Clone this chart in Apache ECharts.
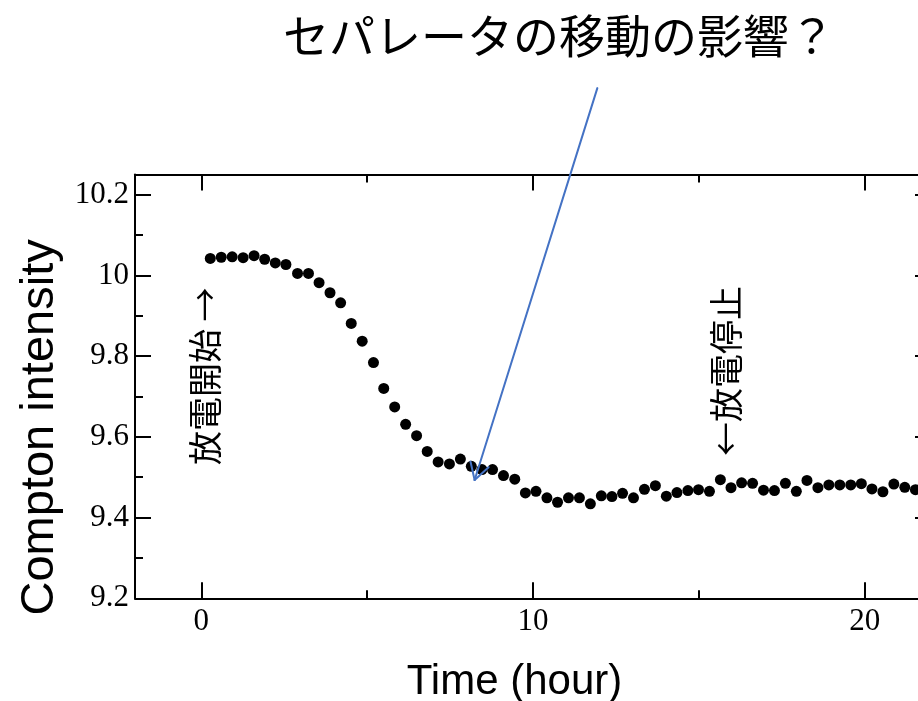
<!DOCTYPE html>
<html>
<head>
<meta charset="utf-8">
<script src="https://cdn.jsdelivr.net/npm/echarts@6/dist/echarts.min.js"></script>
<style>
html,body{margin:0;padding:0;background:#fff;}
#chart{width:918px;height:701px;}
</style>
</head>
<body>
<div id="chart"></div>
<script>
// ---- data ----
const titleText = 'セパレータの移動の影響？';
const xName = 'Time (hour)';
const yName = 'Compton intensity';
const timeHours = [0.27,0.60,0.93,1.26,1.59,1.91,2.23,2.55,2.90,3.23,3.55,3.88,4.20,4.52,4.85,5.19,5.50,5.83,6.16,6.49,6.81,7.14,7.48,7.81,8.14,8.46,8.78,9.11,9.45,9.77,10.09,10.42,10.74,11.07,11.40,11.73,12.06,12.38,12.70,13.03,13.36,13.69,14.02,14.34,14.67,14.99,15.32,15.65,15.97,16.29,16.62,16.95,17.28,17.61,17.94,18.26,18.59,18.92,19.25,19.58,19.90,20.22,20.55,20.88,21.21,21.53];
const intensity = [10.042,10.045,10.046,10.044,10.049,10.040,10.031,10.027,10.005,10.005,9.982,9.957,9.932,9.881,9.837,9.784,9.720,9.674,9.631,9.603,9.564,9.538,9.533,9.545,9.527,9.519,9.519,9.504,9.495,9.461,9.465,9.449,9.438,9.449,9.449,9.434,9.454,9.452,9.460,9.449,9.470,9.479,9.453,9.462,9.467,9.469,9.465,9.494,9.474,9.486,9.485,9.468,9.467,9.485,9.465,9.492,9.474,9.481,9.481,9.481,9.484,9.471,9.464,9.483,9.475,9.469];
const xRange = [-2, 22];
const yRange = [9.2, 10.25];
const xMajorTicks = [0, 10, 20];
const xMinorTicks = [5, 15];
const yMajorTicks = [9.2, 9.4, 9.6, 9.8, 10, 10.2];
const yMinorTicks = [9.3, 9.5, 9.7, 9.9, 10.1];
// annotations (data coordinates)
const startNoteText = '放電開始 →';
const startNotePos = [0.12, 9.750];
const stopNoteText = '←放電停止';
const stopNotePos = [15.83, 9.763];
const arrowFrom = [11.94, 10.464];
const arrowTo = [8.24, 9.493];

// ---- chart ----
const chart = echarts.init(document.getElementById('chart'), null, {renderer: 'canvas'});
const serif = 'Liberation Serif, Times New Roman, serif';
const sans = 'Liberation Sans, Arial, sans-serif';
const cjk = 'Noto Sans CJK JP, sans-serif';

function xAxisDef(pos, ticks, len, line, label) {
  return {
    type: 'value', position: pos, min: xRange[0], max: xRange[1],
    axisLine: {show: line, onZero: false, lineStyle: {color: '#000', width: 2}},
    axisTick: {show: true, inside: true, length: len, customValues: ticks, lineStyle: {color: '#000', width: 2}},
    axisLabel: label ? {show: true, customValues: ticks, color: '#000', fontFamily: serif, fontSize: 31, margin: 8} : {show: false},
    splitLine: {show: false}
  };
}
function yAxisDef(pos, ticks, len, line, label) {
  return {
    type: 'value', position: pos, min: yRange[0], max: yRange[1],
    axisLine: {show: line, onZero: false, lineStyle: {color: '#000', width: 2}},
    axisTick: {show: true, inside: true, length: len, customValues: ticks, lineStyle: {color: '#000', width: 2}},
    axisLabel: label ? {show: true, customValues: ticks, color: '#000', fontFamily: serif, fontSize: 31, margin: 6} : {show: false},
    splitLine: {show: false}
  };
}

const xAxes = [
  xAxisDef('bottom', xMajorTicks, 16, true, true),
  xAxisDef('top', xMajorTicks, 16, true, false),
  xAxisDef('bottom', xMinorTicks, 8, false, false),
  xAxisDef('top', xMinorTicks, 8, false, false)
];
xAxes[0].name = xName;
xAxes[0].nameLocation = 'middle';
xAxes[0].nameGap = 63;
xAxes[0].nameTextStyle = {fontFamily: sans, fontSize: 42, color: '#000', padding: [0, 37, 0, 0]};

const yAxes = [
  yAxisDef('left', yMajorTicks, 16, true, true),
  yAxisDef('right', yMajorTicks, 16, true, false),
  yAxisDef('left', yMinorTicks, 8, false, false),
  yAxisDef('right', yMinorTicks, 8, false, false)
];
yAxes[0].name = yName;
yAxes[0].nameLocation = 'middle';
yAxes[0].nameGap = 70;
yAxes[0].nameTextStyle = {fontFamily: sans, fontSize: 47, color: '#000', padding: [0, 82, 0, 0]};

chart.setOption({
  animation: false,
  backgroundColor: '#fff',
  title: {
    text: titleText, left: 283, top: 13, padding: 0,
    textStyle: {fontFamily: cjk, fontSize: 46, fontWeight: 'normal', color: '#000'}
  },
  grid: {left: 135, top: 174.5, width: 796, height: 423.8, containLabel: false, outerBoundsMode: 'none'},
  xAxis: xAxes,
  yAxis: yAxes,
  series: [{
    type: 'scatter', xAxisIndex: 0, yAxisIndex: 0,
    symbol: 'circle', symbolSize: 11,
    itemStyle: {color: '#000', opacity: 1},
    data: timeHours.map((t, i) => [t, intensity[i]])
  }]
});

function px(p) { return chart.convertToPixel({xAxisIndex: 0, yAxisIndex: 0}, p); }
const a = px(startNotePos), b = px(stopNotePos), f = px(arrowFrom), t = px(arrowTo);
const dx = f[0] - t[0], dy = f[1] - t[1], L = Math.hypot(dx, dy);
const ux = dx / L, uy = dy / L, wl = 19, ang = Math.PI / 6;
function rot(x, y, th) { return [x * Math.cos(th) - y * Math.sin(th), x * Math.sin(th) + y * Math.cos(th)]; }
const w1 = rot(ux, uy, ang), w2 = rot(ux, uy, -ang);
const blue = '#4472C4';
const lineStyle = {stroke: blue, lineWidth: 2, lineCap: 'round'};
chart.setOption({
  graphic: [
    {type: 'text', z: 100, x: a[0], y: a[1], rotation: Math.PI / 2,
     style: {text: startNoteText, fontFamily: cjk, fontSize: 34, fill: '#000', textAlign: 'center', textVerticalAlign: 'middle', align: 'center', verticalAlign: 'middle'}},
    {type: 'text', z: 100, x: b[0], y: b[1], rotation: Math.PI / 2,
     style: {text: stopNoteText, fontFamily: cjk, fontSize: 34, fill: '#000', textAlign: 'center', textVerticalAlign: 'middle', align: 'center', verticalAlign: 'middle'}},
    {type: 'line', z: 100, shape: {x1: f[0], y1: f[1], x2: t[0], y2: t[1]}, style: lineStyle},
    {type: 'line', z: 100, shape: {x1: t[0], y1: t[1], x2: t[0] + w1[0] * wl, y2: t[1] + w1[1] * wl}, style: lineStyle},
    {type: 'line', z: 100, shape: {x1: t[0], y1: t[1], x2: t[0] + w2[0] * wl, y2: t[1] + w2[1] * wl}, style: lineStyle}
  ]
});
</script>
</body>
</html>
